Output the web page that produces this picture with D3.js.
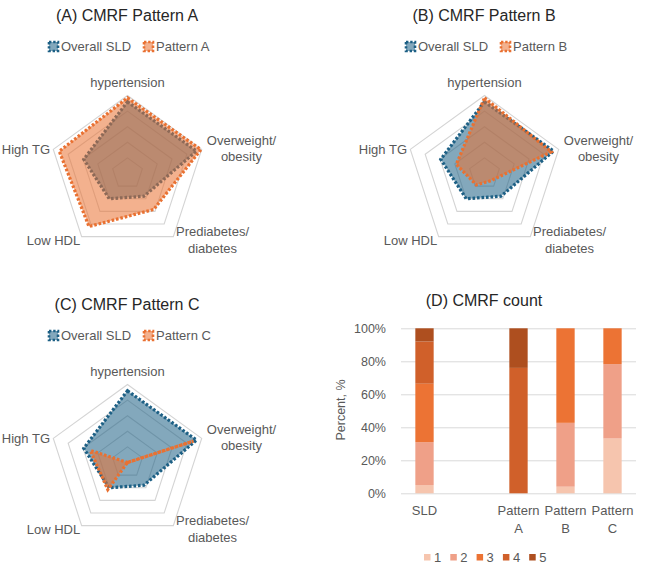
<!DOCTYPE html>
<html>
<head>
<meta charset="utf-8">
<script src="https://cdn.jsdelivr.net/npm/d3@7"></script>
<style>
  body { margin: 0; background: #fff; }
  svg { display: block; font-family: "Liberation Sans", Arial, sans-serif; }
</style>
</head>
<body>
<svg id="chart" width="646" height="581"></svg>
<script>
// radar data (share of patients with each risk factor, 0..1)
var axes = [["hypertension"], ["Overweight/", "obesity"], ["Prediabetes/", "diabetes"], ["Low HDL"], ["High TG"]];
var sldValues = [0.92, 0.93, 0.36, 0.40, 0.59];
var patternAValues = [0.97, 0.99, 0.57, 0.84, 0.92];
var patternBValues = [0.97, 0.90, 0.12, 0.18, 0.38];
var patternCValues = [0.00, 0.89, 0.00, 0.43, 0.50];
var ringTicks = [0.2, 0.4, 0.6, 0.8, 1.0];

// bar data (percent of group by number of CMRF)
var groups = ["SLD", "", "Pattern A", "Pattern B", "Pattern C"];
var countKeys = ["1", "2", "3", "4", "5"];
var count1 = [5, 0, 0, 4, 33.2];
var count2 = [26, 0, 0, 38.7, 45.1];
var count3 = [35.4, 0, 0, 57.3, 21.7];
var count4 = [25.6, 0, 76, 0, 0];
var count5 = [8, 0, 24, 0, 0];
var yTicks = [0, 20, 40, 60, 80, 100];

var blue = "#1d6085", orange = "#e97132";
var countColors = ["#f6c5ae", "#efa088", "#ec7334", "#d0602a", "#ae4f1f"];
var labelColor = "#595959";

var svg = d3.select("#chart");

// ---------- radar panels ----------
var R = 78;
var r = d3.scaleLinear().domain([0, 1]).range([0, R]);
var angle = function(i) { return i * 2 * Math.PI / axes.length; };
var radial = d3.lineRadial()
  .angle(function(d, i) { return angle(i); })
  .radius(function(d) { return r(d); })
  .curve(d3.curveLinearClosed);

// label placement relative to radar centre
var labelPos = [
  {x: 0, y: -86.5, anchor: "middle"},
  {x: 114, y: -29, anchor: "middle"},
  {x: 85, y: 62.5, anchor: "middle"},
  {x: -74, y: 71.5, anchor: "middle"},
  {x: -77.5, y: -19.5, anchor: "end"}
];

function legendMarker(g, x, y, color) {
  g.append("rect")
    .attr("x", x).attr("y", y - 4.5)
    .attr("width", 9).attr("height", 9)
    .attr("fill", color).attr("fill-opacity", 0.55)
    .attr("stroke", color).attr("stroke-width", 2.6)
    .attr("stroke-dasharray", "2.4 1.8");
}

function radarPanel(tx, ty, title, patternName, patternValues) {
  var g = svg.append("g").attr("transform", "translate(" + tx + "," + ty + ")");

  g.append("text")
    .attr("x", 127).attr("y", 21)
    .attr("text-anchor", "middle")
    .attr("font-size", 16).attr("fill", "#262626")
    .text(title);

  // legend
  legendMarker(g, 49, 46.5, blue);
  g.append("text").attr("x", 61).attr("y", 51)
    .attr("font-size", 13).attr("fill", labelColor).text("Overall SLD");
  legendMarker(g, 144, 46.5, orange);
  g.append("text").attr("x", 156).attr("y", 51)
    .attr("font-size", 13).attr("fill", labelColor).text(patternName);

  var c = g.append("g").attr("transform", "translate(127.5,173.5)");

  c.selectAll(".ring")
    .data(ringTicks)
    .enter().append("path")
    .attr("class", "ring")
    .attr("d", function(t) { return radial(axes.map(function() { return t; })); })
    .attr("fill", "none")
    .attr("stroke", "#d4d4d4")
    .attr("stroke-width", 1.1);

  var series = [{values: sldValues, color: blue}, {values: patternValues, color: orange}];
  c.selectAll(".area")
    .data(series)
    .enter().append("path")
    .attr("class", "area")
    .attr("d", function(s) { return radial(s.values); })
    .attr("fill", function(s) { return s.color; })
    .attr("fill-opacity", 0.55)
    .attr("stroke", function(s) { return s.color; })
    .attr("stroke-width", 3.2)
    .attr("stroke-dasharray", "2.6 1.9");

  axes.forEach(function(lines, i) {
    var p = labelPos[i];
    var t = c.append("text")
      .attr("text-anchor", p.anchor)
      .attr("font-size", 13)
      .attr("fill", labelColor);
    lines.forEach(function(line, j) {
      t.append("tspan").attr("x", p.x).attr("y", p.y + j * 16.5).text(line);
    });
  });
}

radarPanel(0, 0, "(A) CMRF Pattern A", "Pattern A", patternAValues);
radarPanel(357, 0, "(B) CMRF Pattern B", "Pattern B", patternBValues);
radarPanel(0, 289, "(C) CMRF Pattern C", "Pattern C", patternCValues);

// ---------- bar panel ----------
var rows = groups.map(function(g, i) {
  return {group: g, "1": count1[i], "2": count2[i], "3": count3[i], "4": count4[i], "5": count5[i]};
});
var stacked = d3.stack().keys(countKeys)(rows);

var x = d3.scaleBand().domain(groups).range([401, 636]).paddingInner(0.61).paddingOuter(0.305);
var y = d3.scaleLinear().domain([0, 100]).range([493.3, 328.3]);

var d = svg.append("g");

d.append("text")
  .attr("x", 484).attr("y", 306)
  .attr("text-anchor", "middle")
  .attr("font-size", 16).attr("fill", "#262626")
  .text("(D) CMRF count");

var yAxis = d.append("g")
  .attr("transform", "translate(401,0)")
  .call(d3.axisLeft(y).tickValues(yTicks).tickSize(-235).tickPadding(15)
    .tickFormat(function(v) { return v + "%"; }));
yAxis.select(".domain").remove();
yAxis.selectAll(".tick line").attr("stroke", "#d9d9d9");
yAxis.selectAll(".tick text")
  .attr("font-size", 12.5).attr("fill", labelColor)
  .attr("font-family", "Liberation Sans, Arial, sans-serif");

d.append("text")
  .attr("transform", "translate(345,410) rotate(-90)")
  .attr("text-anchor", "middle")
  .attr("font-size", 12.5).attr("fill", labelColor)
  .text("Percent, %");

d.selectAll(".layer")
  .data(stacked)
  .enter().append("g")
  .attr("class", "layer")
  .attr("fill", function(s, i) { return countColors[i]; })
  .selectAll("rect")
  .data(function(s) { return s; })
  .enter().append("rect")
  .attr("x", function(p) { return x(p.data.group); })
  .attr("y", function(p) { return y(p[1]); })
  .attr("width", x.bandwidth())
  .attr("height", function(p) { return y(p[0]) - y(p[1]); });

// category labels
groups.forEach(function(g) {
  if (!g) return;
  var parts = g.split(" ");
  var t = d.append("text")
    .attr("text-anchor", "middle")
    .attr("font-size", 13).attr("fill", labelColor);
  parts.forEach(function(part, j) {
    t.append("tspan")
      .attr("x", x(g) + x.bandwidth() / 2)
      .attr("y", 515 + j * 18)
      .text(part);
  });
});

// legend
countKeys.forEach(function(k, i) {
  var lx = 424 + i * 26.3;
  d.append("rect")
    .attr("x", lx).attr("y", 554)
    .attr("width", 6.5).attr("height", 6.5)
    .attr("fill", countColors[i]);
  d.append("text")
    .attr("x", lx + 10).attr("y", 562)
    .attr("font-size", 13).attr("fill", labelColor)
    .text(k);
});
</script>
</body>
</html>
